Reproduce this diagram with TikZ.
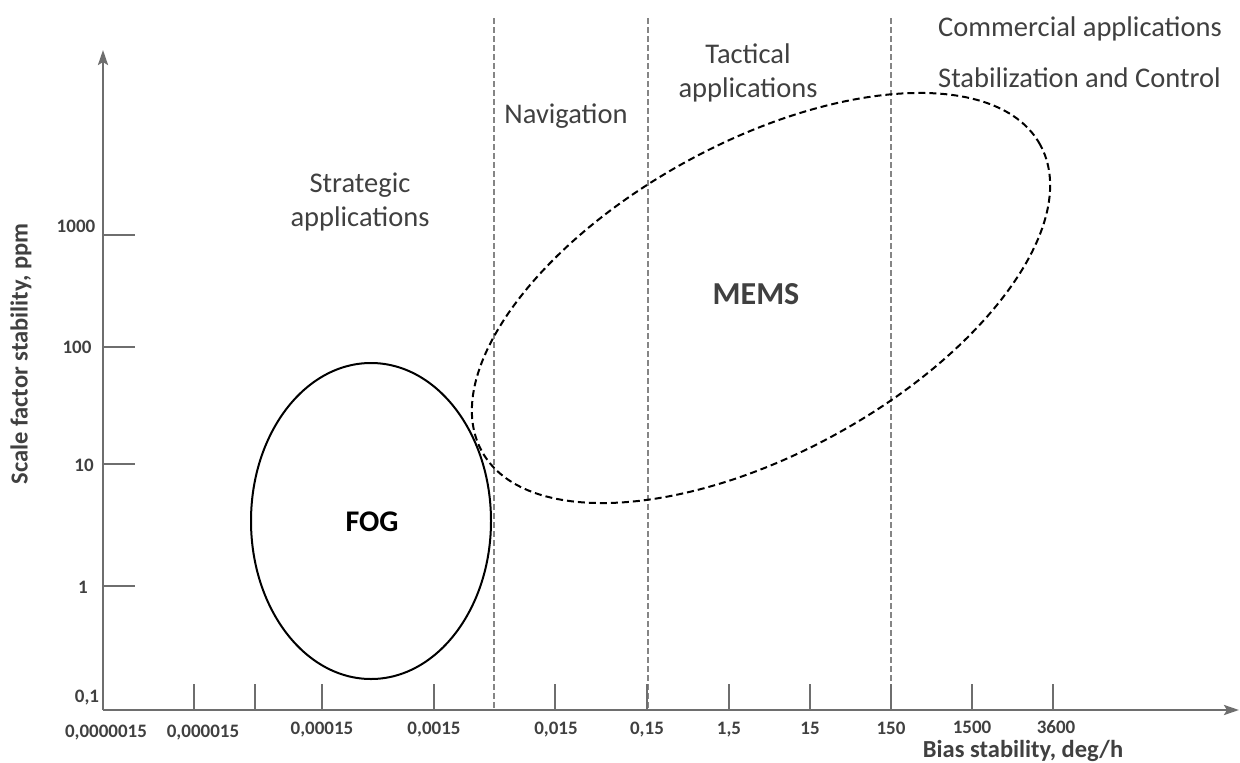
\documentclass[tikz,border=0pt]{standalone}
\usepackage{fontspec}
\setmainfont{Carlito}
\usetikzlibrary{arrows.meta,shapes.geometric}
\definecolor{axisgray}{HTML}{6E6E6E}
\definecolor{dashgray}{HTML}{858585}
\definecolor{txtgray}{HTML}{404040}
\begin{document}
\begin{tikzpicture}[x=1pt,y=-1pt,
  axisline/.style={draw=axisgray,line width=2.6pt,-{Stealth[length=15pt,width=10pt,inset=3pt]}},
  tickline/.style={draw=axisgray,line width=2.6pt},
  sepline/.style={draw=dashgray,line width=1.5pt,dash pattern=on 6pt off 3pt},
  region/.style={text=txtgray,font=\fontsize{28.5}{34}\selectfont,align=center,inner sep=0pt},
  ticklab/.style={text=txtgray,font=\fontsize{19}{22}\selectfont\bfseries,inner sep=0pt},
  axtitle/.style={text=txtgray,font=\fontsize{24.5}{30}\selectfont\bfseries,inner sep=0pt},
  fogshape/.style={draw=black,line width=2pt,ellipse,inner sep=0pt},
  memsshape/.style={draw=black,line width=2pt,ellipse,inner sep=0pt,dash pattern=on 7pt off 4pt}
]
\useasboundingbox (0,0) rectangle (1240,763);

% separators
\foreach \i/\x in {a/494,b/648,c/891}{
  \coordinate (sep\i top) at (\x,18);
  \coordinate (sep\i bot) at (\x,710);
  \draw[sepline] (sep\i top) -- (sep\i bot);
}

% axes
\coordinate (O) at (103,710);
\coordinate (ytop) at (103,50);
\coordinate (xend) at (1239,710);
\draw[axisline] (O) -- (ytop);
\draw[axisline] (O) -- (xend);

% y ticks
\foreach \i/\y in {1/235,2/347,3/464,4/586}{
  \coordinate (yt\i) at (103,\y);
  \coordinate (yte\i) at (135,\y);
  \draw[tickline] (yt\i) -- (yte\i);
}
\node[ticklab] (yl1) at (76,226) {1000};
\node[ticklab] (yl2) at (77,347) {100};
\node[ticklab] (yl3) at (84,465) {10};
\node[ticklab] (yl4) at (83,587) {1};
\node[ticklab] (yl5) at (87,698) {0,1};

% x ticks
\foreach \i/\x in {1/194,2/255,3/322,4/434,5/555,6/647,7/729,8/810,9/891,10/972,11/1053}{
  \coordinate (xt\i) at (\x,710);
  \coordinate (xte\i) at (\x,684);
  \draw[tickline] (xt\i) -- (xte\i);
}
\node[ticklab,anchor=base] (xl1) at (106,737) {0,0000015};
\node[ticklab,anchor=base] (xl2) at (203,737) {0,000015};
\node[ticklab,anchor=base] (xl3) at (322,734) {0,00015};
\node[ticklab,anchor=base] (xl4) at (434,734) {0,0015};
\node[ticklab,anchor=base] (xl5) at (556,734) {0,015};
\node[ticklab,anchor=base] (xl6) at (647,734) {0,15};
\node[ticklab,anchor=base] (xl7) at (729,734) {1,5};
\node[ticklab,anchor=base] (xl8) at (810,734) {15};
\node[ticklab,anchor=base] (xl9) at (891,734) {150};
\node[ticklab,anchor=base] (xl10) at (972,733) {1500};
\node[ticklab,anchor=base] (xl11) at (1056,733) {3600};

% axis titles
\node[axtitle,rotate=90] (ytitle) at (21,354) {Scale factor stability, ppm};
\node[axtitle,anchor=base] (xtitle) at (1023,757) {Bias stability, deg/h};

% ellipses
\node[fogshape,minimum width=240pt,minimum height=316pt] (fog) at (371,521) {};
\node[memsshape,minimum width=637pt,minimum height=311pt,rotate=28.75] (mems) at (761,298) {};
\node[font=\fontsize{30}{36}\selectfont\bfseries,text=black,inner sep=0pt] (foglab) at (372,522) {FOG};
\node[font=\fontsize{32}{38}\selectfont\bfseries,text=txtgray,inner sep=0pt] (memslab) at (756,294) {MEMS};

% region labels
\node[region,anchor=base west] (comm) at (938,36) {Commercial applications};
\node[region,anchor=base west] (stab) at (938,87) {Stabilization and Control};
\node[region] (tact) at (748,73) {Tactical\\applications};
\node[region] (nav) at (566,116) {Navigation};
\node[region] (strat) at (360,202) {Strategic\\applications};
\end{tikzpicture}
\end{document}
